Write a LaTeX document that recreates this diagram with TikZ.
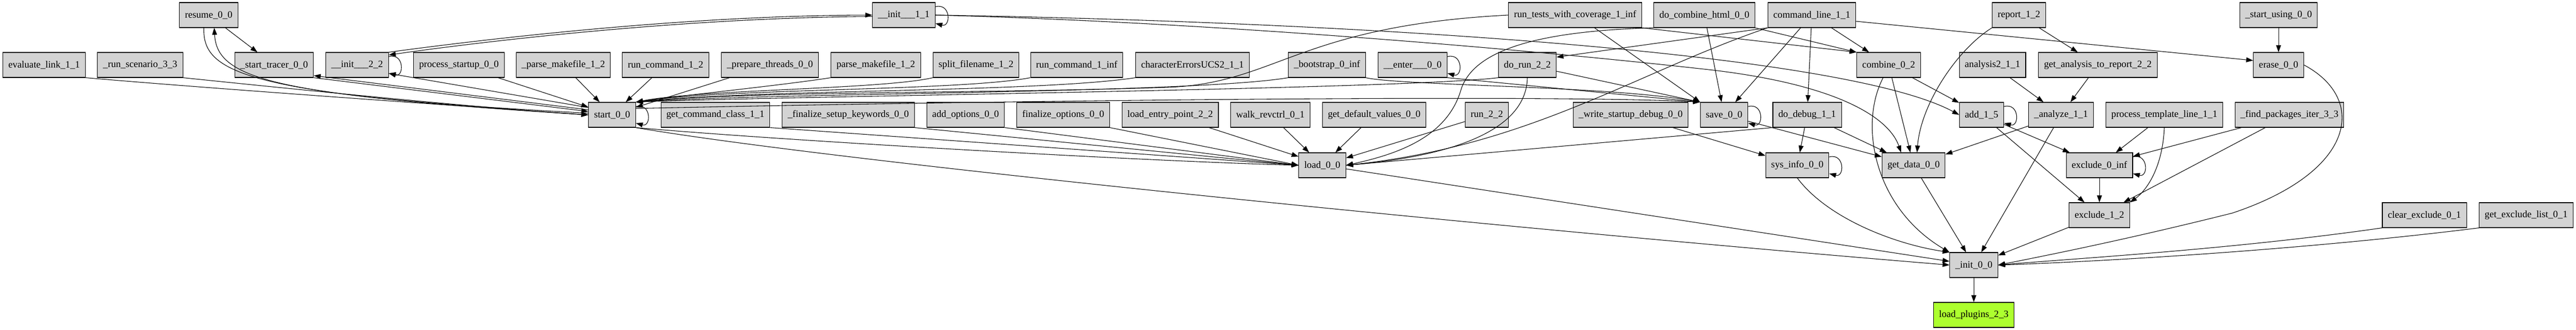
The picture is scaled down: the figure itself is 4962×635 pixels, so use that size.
\documentclass[tikz,border=0pt]{standalone}
\usepackage{fontspec}
\setmainfont{Liberation Serif}
\usetikzlibrary{arrows.meta,calc}
\definecolor{gvgray}{HTML}{D3D3D3}
\definecolor{gvgreen}{HTML}{ADFF2F}
\tikzset{
  gvnode/.style={draw, fill=gvgray, line width=0.8pt, minimum height=36pt, inner xsep=7.92pt, inner ysep=0pt, font=\fontsize{14pt}{17pt}\selectfont},
  gvedge/.style={line width=0.8pt, -{Triangle[length=10pt,width=7pt]}},
}
\newcommand\gvloop[1]{\draw[gvedge] ($(#1.east)+(0,16)$) .. controls +(30,8) and +(30,-8) .. ($(#1.east)+(0,-16)$);}
\begin{document}
\begin{tikzpicture}[x=0.75pt,y=0.75pt]
\useasboundingbox (0,0) rectangle (4962,-635);
% row 1
\node[gvnode] (resume) at (402,-29) {resume\_0\_0};
\node[gvnode] (init11) at (1741,-29) {\_\_init\_\_\_1\_1};
\node[gvnode] (runtests) at (3034,-29) {run\_tests\_with\_coverage\_1\_inf};
\node[gvnode] (dch) at (3283,-29) {do\_combine\_html\_0\_0};
\node[gvnode] (cl) at (3490,-29) {command\_line\_1\_1};
\node[gvnode] (report) at (3889,-29) {report\_1\_2};
\node[gvnode] (startusing) at (4389,-29) {\_start\_using\_0\_0};
% row 2
\node[gvnode] (evl) at (85,-125) {evaluate\_link\_1\_1};
\node[gvnode] (runsc) at (270,-125) {\_run\_scenario\_3\_3};
\node[gvnode] (sttr) at (528,-125) {\_start\_tracer\_0\_0};
\node[gvnode] (init22) at (688,-125) {\_\_init\_\_\_2\_2};
\node[gvnode] (procst) at (884,-125) {process\_startup\_0\_0};
\node[gvnode] (pmk) at (1085,-125) {\_parse\_makefile\_1\_2};
\node[gvnode] (runcmd12) at (1282,-125) {run\_command\_1\_2};
\node[gvnode] (prep) at (1483,-125) {\_prepare\_threads\_0\_0};
\node[gvnode] (pmk2) at (1687,-125) {parse\_makefile\_1\_2};
\node[gvnode] (split) at (1880,-125) {split\_filename\_1\_2};
\node[gvnode] (runcmdinf) at (2074,-125) {run\_command\_1\_inf};
\node[gvnode] (charerr) at (2297,-125) {characterErrorsUCS2\_1\_1};
\node[gvnode] (boot) at (2556,-125) {\_bootstrap\_0\_inf};
\node[gvnode] (enter) at (2721,-125) {\_\_enter\_\_\_0\_0};
\node[gvnode] (dorun) at (2942,-125) {do\_run\_2\_2};
\node[gvnode] (combine) at (3638,-125) {combine\_0\_2};
\node[gvnode] (an2) at (3838,-125) {analysis2\_1\_1};
\node[gvnode] (getan) at (4041,-125) {get\_analysis\_to\_report\_2\_2};
\node[gvnode] (erase) at (4389,-125) {erase\_0\_0};
% row 3
\node[gvnode] (start) at (1179,-221) {start\_0\_0};
\node[gvnode] (gcc) at (1378,-221) {get\_command\_class\_1\_1};
\node[gvnode] (fsk) at (1634,-221) {\_finalize\_setup\_keywords\_0\_0};
\node[gvnode] (addopt) at (1860,-221) {add\_options\_0\_0};
\node[gvnode] (finopt) at (2048,-221) {finalize\_options\_0\_0};
\node[gvnode] (lep) at (2254,-221) {load\_entry\_point\_2\_2};
\node[gvnode] (walk) at (2447,-221) {walk\_revctrl\_0\_1};
\node[gvnode] (gdv) at (2647,-221) {get\_default\_values\_0\_0};
\node[gvnode] (run22) at (2864,-221) {run\_2\_2};
\node[gvnode] (wsd) at (3141,-221) {\_write\_startup\_debug\_0\_0};
\node[gvnode] (save) at (3321,-221) {save\_0\_0};
\node[gvnode] (dodebug) at (3481,-221) {do\_debug\_1\_1};
\node[gvnode] (add) at (3817,-221) {add\_1\_5};
\node[gvnode] (analyze) at (3970,-221) {\_analyze\_1\_1};
\node[gvnode] (ptl) at (4169,-221) {process\_template\_line\_1\_1};
\node[gvnode] (fpi) at (4410,-221) {\_find\_packages\_iter\_3\_3};
% row 4
\node[gvnode] (load) at (2547,-318) {load\_0\_0};
\node[gvnode] (sysinfo) at (3462,-318) {sys\_info\_0\_0};
\node[gvnode] (getdata) at (3686,-318) {get\_data\_0\_0};
\node[gvnode] (ex0) at (4044,-318) {exclude\_0\_inf};
% row 5
\node[gvnode] (ex1) at (4044,-414) {exclude\_1\_2};
\node[gvnode] (clrex) at (4670,-414) {clear\_exclude\_0\_1};
\node[gvnode] (getex) at (4866,-414) {get\_exclude\_list\_0\_1};
% rows 6, 7
\node[gvnode] (init00) at (3802,-510) {\_init\_0\_0};
\node[gvnode, fill=gvgreen] (lp) at (3802,-606) {load\_plugins\_2\_3};

% self loops
\gvloop{init11}
\gvloop{init22}
\gvloop{start}
\gvloop{enter}
\gvloop{save}
\gvloop{sysinfo}
\gvloop{add}
\gvloop{ex0}

% left cluster into start
\draw[gvedge] (evl.south east) .. controls (400,-170) and (900,-205) .. (start.west);
\draw[gvedge] (runsc.south east) .. controls (600,-175) and (950,-210) .. (start.west);
\draw[gvedge] ([xshift=-7pt]resume.south) .. controls (390,-140) and (470,-180) .. (start.west);
\draw[gvedge] (start.176) .. controls (520,-185) and (418,-150) .. ([xshift=8pt]resume.south);
\draw[gvedge] (resume) -- (sttr);
\draw[gvedge] (sttr.south east) -- (start.172);
\draw[gvedge] (start.168) -- ([yshift=3pt]sttr.south east);
\draw[gvedge] (start.163) -- (init22.-15);
\draw[gvedge] (init22.north east) .. controls (900,-80) and (1300,-30) .. (init11.west);
\draw[gvedge] ([yshift=-2pt]init11.west) .. controls (1300,-34) and (900,-84) .. ([yshift=-4pt]init22.north east);
\draw[gvedge] (procst) -- (start);
\draw[gvedge] (pmk) -- (start);
\draw[gvedge] (runcmd12) -- (start);
\draw[gvedge] (prep) -- (start);
\draw[gvedge] (pmk2.south west) .. controls (1500,-165) and (1300,-185) .. (start.north east);
\draw[gvedge] (split.south west) .. controls (1700,-172) and (1350,-172) .. (start.north east);
\draw[gvedge] (runcmdinf.south west) .. controls (1850,-175) and (1400,-170) .. (start.north east);
\draw[gvedge] (charerr.south west) .. controls (2000,-178) and (1450,-172) .. (start.north east);
\draw[gvedge] (boot.south west) .. controls (2300,-180) and (1500,-178) .. (start.north east);
\draw[gvedge] (dorun.south west) .. controls (2700,-172) and (1500,-185) .. (start.north east);
\draw[gvedge] (runtests.west) .. controls (2500,-50) and (2460,-160) .. (2250,-168) .. controls (1900,-180) and (1450,-175) .. (start.north east);

% into save
\draw[gvedge] (start.15) .. controls (2000,-192) and (3000,-182) .. (save.north west);
\draw[gvedge] (boot.south east) .. controls (2700,-165) and (3100,-165) .. (save.north west);
\draw[gvedge] (enter.south east) -- (save.north west);
\draw[gvedge] (dorun) -- (save.north west);
\draw[gvedge] ([xshift=28pt]runtests.south) -- (save.north west);
\draw[gvedge] (dch) -- (save);
\draw[gvedge] (cl) -- (save);

% into load
\draw[gvedge] (start.south east) .. controls (1500,-270) and (2200,-310) .. (load.west);
\draw[gvedge] (gcc.south east) -- (load.west);
\draw[gvedge] (fsk.south east) -- (load.west);
\draw[gvedge] (addopt.south east) -- (load.west);
\draw[gvedge] (finopt.south east) -- (load.west);
\draw[gvedge] ([xshift=-14pt]lep.south east) -- (load.160);
\draw[gvedge] (walk) -- (load);
\draw[gvedge] (gdv) -- (load);
\draw[gvedge] (run22) -- (load);
\draw[gvedge] (dorun.south) .. controls (2940,-250) and (2800,-300) .. (load.east);
\draw[gvedge] (dch.south west) .. controls (2950,-60) and (2840,-100) .. (2815,-170) .. controls (2790,-260) and (2700,-295) .. (load.east);
\draw[gvedge] (cl.south west) .. controls (3150,-140) and (2950,-280) .. (load.east);
\draw[gvedge] (dodebug.south west) -- (load.east);

% command_line and row 1
\draw[gvedge] (cl.south west) -- (dorun.15);
\draw[gvedge] (cl) -- (dodebug);
\draw[gvedge] (cl) -- (combine);
\draw[gvedge] (cl.-8) -- (erase.170);
\draw[gvedge] (runtests.south east) -- (combine.north west);
\draw[gvedge] (dch.south east) -- (combine.north west);
\draw[gvedge] (init11.east) .. controls (2600,-42) and (3550,-100) .. (add.west);
\draw[gvedge] (init11.east) .. controls (2300,-42) and (2900,-90) .. (3300,-135) .. controls (3550,-165) and (3640,-230) .. ([xshift=-18pt]getdata.north);
\draw[gvedge] (report.south west) .. controls (3770,-95) and (3700,-200) .. ([xshift=5pt]getdata.north);
\draw[gvedge] (report) -- (getan);
\draw[gvedge] (startusing) -- (erase);

% middle
\draw[gvedge] (wsd) -- (sysinfo);
\draw[gvedge] (save) -- (getdata);
\draw[gvedge] (dodebug) -- (sysinfo);
\draw[gvedge] (dodebug) -- (getdata);
\draw[gvedge] (combine) -- (getdata);
\draw[gvedge] (combine) -- (add);
\draw[gvedge] ([xshift=-8pt]combine.south) .. controls (3580,-240) and (3610,-400) .. (init00.north west);
\draw[gvedge] (an2) -- (analyze);
\draw[gvedge] (getan) -- (analyze);
\draw[gvedge] (analyze) -- (getdata);
\draw[gvedge] (analyze) -- (init00);
\draw[gvedge] (add) -- (ex0);
\draw[gvedge] (add) -- (ex1);
\draw[gvedge] (ptl) -- (ex0);
\draw[gvedge] (ptl.south) .. controls (4165,-330) and (4130,-370) .. (ex1.north east);
\draw[gvedge] (fpi) -- (ex0);
\draw[gvedge] (fpi) -- (ex1);
\draw[gvedge] (ex0) -- (ex1);

% into _init_0_0
\draw[gvedge] (start.south east) .. controls (1600,-310) and (2900,-440) .. (init00.west);
\draw[gvedge] (load) -- (init00);
\draw[gvedge] (sysinfo.south) .. controls (3520,-420) and (3650,-470) .. (init00.north west);
\draw[gvedge] (getdata) -- (init00);
\draw[gvedge] (ex1) -- (init00);
\draw[gvedge] (erase.east) .. controls (4560,-190) and (4540,-330) .. (4300,-410) .. controls (4100,-460) and (3950,-490) .. (init00.east);
\draw[gvedge] (clrex.south west) .. controls (4300,-480) and (4000,-497) .. (init00.east);
\draw[gvedge] (getex.south west) .. controls (4400,-485) and (4000,-505) .. (init00.east);
\draw[gvedge] (init00) -- (lp);
\end{tikzpicture}
\end{document}
